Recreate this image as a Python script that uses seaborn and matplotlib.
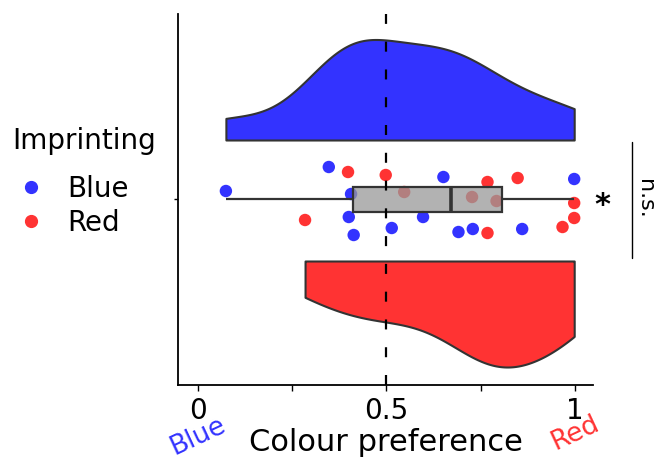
import matplotlib
matplotlib.use("Agg")
import matplotlib.pyplot as plt
import numpy as np
import pandas as pd
import seaborn as sns
from matplotlib.lines import Line2D

# colour preference of each bird (0 = blue, 1 = red)
blue_pref = [0.074, 0.347, 0.406, 0.400, 0.413, 0.514, 0.597, 0.651, 0.691, 0.729, 0.860, 0.998]
red_pref = [0.398, 0.498, 0.284, 0.547, 0.727, 0.792, 0.768, 0.848, 0.768, 0.998, 0.998, 0.967]
# vertical jitter of the dots around the box (same order as above)
blue_jitter = [0.08, 0.32, 0.05, -0.18, -0.36, -0.29, -0.18, 0.22, -0.33, -0.30, -0.30, 0.20]
red_jitter = [0.27, 0.24, -0.21, 0.07, 0.02, -0.02, 0.17, 0.21, -0.34, -0.04, -0.19, -0.28]

groups = ["Blue", "Red"]
palette = {"Blue": "#3333ff", "Red": "#ff3333"}
tick_values = [0, 0.25, 0.5, 0.75, 1]
tick_labels = ["0", "", "0.5", "", "1"]


def nrd0(x):
    """R's default bandwidth (bw.nrd0)"""
    sd = x.std(ddof=1)
    q1, q3 = np.percentile(x, [25, 75])
    return 0.9 * min(sd, (q3 - q1) / 1.34) * len(x) ** -0.2


def kde_cut0(values, n=256):
    """gaussian kde evaluated only over the data range (like cut=0)"""
    x = np.asarray(values, dtype=float)
    bw = nrd0(x)
    grid = np.linspace(x.min(), x.max(), n)
    z = (grid[:, None] - x[None, :]) / bw
    dens = np.exp(-0.5 * z ** 2).sum(axis=1) / (len(x) * bw * np.sqrt(2 * np.pi))
    return grid, dens


df = pd.DataFrame({
    "pref": blue_pref + red_pref,
    "jitter": blue_jitter + red_jitter,
    "Imprinting": ["Blue"] * len(blue_pref) + ["Red"] * len(red_pref),
})
df["row"] = 0.0

sns.set_style("ticks")
plt.rcParams["font.family"] = ["DejaVu Sans"]
plt.rcParams.update({
    "text.color": "black", "axes.labelcolor": "black",
    "xtick.color": "black", "ytick.color": "black",
})

fig = plt.figure(figsize=(6.54, 4.59), dpi=100)
ax = fig.add_axes([0.2722, 0.1612, 0.6346, 0.8083])

# half violins ("clouds"): blue one above the box, red one below it
clouds = {"Blue": (0.59, 1), "Red": (-0.62, -1)}
kdes = {"Blue": kde_cut0(blue_pref), "Red": kde_cut0(red_pref)}
max_dens = max(d.max() for _, d in kdes.values())
for g in groups:
    base, side = clouds[g]
    grid, dens = kdes[g]
    ax.fill_between(grid, base, base + side * 1.06 * dens / max_dens,
                    facecolor=palette[g], edgecolor="#333333", linewidth=1.5)

# raw points
sns.scatterplot(
    data=df, x="pref", y="jitter", hue="Imprinting", palette=palette,
    s=80, linewidth=0, legend=False, ax=ax,
)

# box of all birds together
sns.boxplot(
    data=df, x="pref", y="row", orient="y", native_scale=True, width=0.25,
    whis=(0, 100), showcaps=False, showfliers=False, color="#999999",
    saturation=1, linecolor="#333333", linewidth=1.6,
    boxprops=dict(facecolor=(0.6, 0.6, 0.6, 0.75)),
    medianprops=dict(linewidth=2.6), ax=ax,
)

ax.axvline(0.5, color="black", lw=1.6, ls=(0, (4.5, 8)), zorder=5)

ax.set_xlim(-0.053, 1.048)
ax.set_ylim(-1.86, 1.85)
ax.set_xticks(tick_values)
ax.set_xticklabels(tick_labels)
ax.set_yticks([0])
ax.set_yticklabels([""])
ax.set_ylabel("")
ax.tick_params(axis="x", length=4.3, width=1, pad=4, labelsize=20)
ax.tick_params(axis="y", length=3, width=1)
sns.despine(ax=ax)
for side in ["left", "bottom"]:
    ax.spines[side].set_linewidth(1.3)
    ax.spines[side].set_color("black")

ax.set_xlabel("Colour preference", fontsize=22)
ax.xaxis.set_label_coords(0.5, -0.178)
ax.xaxis.label.set_va("baseline")

# end labels of the preference axis
ax.text(0, -2.37, "Blue", color=palette["Blue"], rotation=25, ha="center",
        va="center", fontsize=19, clip_on=False)
ax.text(1, -2.34, "Red", color=palette["Red"], rotation=25, ha="center",
        va="center", fontsize=19, clip_on=False)

# significance marks
ax.text(1.074, -0.15, "*", fontsize=22, fontweight="bold", ha="center",
        va="baseline", clip_on=False)
ax.plot([1.151, 1.151], [0.57, -0.59], color="black", lw=1, clip_on=False)
ax.text(1.186, 0, "n.s.", rotation=270, ha="center", va="center",
        fontsize=16, clip_on=False)

handles = [
    Line2D([], [], marker="o", ls="", color=palette[g], markersize=8.5, label=g)
    for g in groups
]
fig.legend(handles=handles, loc="upper left", bbox_to_anchor=(20 / 654, 1 - 175 / 459),
           frameon=False, fontsize=20, handlelength=0.8, handletextpad=0.9,
           labelspacing=0.22, borderpad=0, borderaxespad=0)
fig.text(12 / 654, 1 - 149 / 459, "Imprinting", fontsize=20, ha="left", va="baseline")

fig.savefig("out.png", dpi=100)
